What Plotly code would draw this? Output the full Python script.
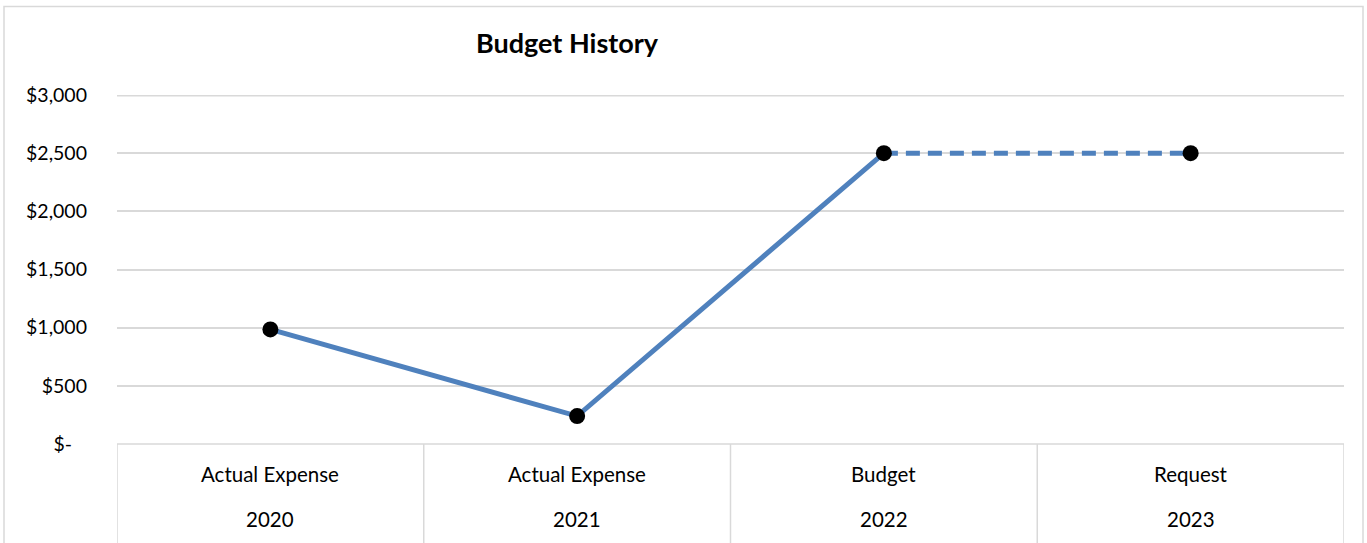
import plotly.graph_objects as go

# Budget history data
years = ["2020", "2021", "2022", "2023"]
kinds = ["Actual Expense", "Actual Expense", "Budget", "Request"]
amounts = [985, 240, 2500, 2500]

y_ticks = [0, 500, 1000, 1500, 2000, 2500, 3000]
y_tick_text = ["$-\u00a0\u00a0\u00a0", "$500", "$1,000", "$1,500", "$2,000", "$2,500", "$3,000"]

LINE_COLOR = "#4F81BD"
GRID = "#D9D9D9"
FONT = "Lato"

W, H = 1367, 543
L, R, T, B = 117, 23, 95, 99
plot_h = H - T - B


def py(pix):
    """Convert a pixel row to paper y."""
    return (H - B - pix) / plot_h


def px(pix):
    """Convert a pixel column to paper x."""
    return (pix - L) / (W - L - R)


idx = list(range(len(years)))

fig = go.Figure()

# Solid segment through actuals and budget
fig.add_trace(go.Scatter(
    x=idx[:3], y=amounts[:3], mode="lines",
    line=dict(color=LINE_COLOR, width=5),
    hoverinfo="skip", showlegend=False,
))
# Dashed segment from budget to request
fig.add_trace(go.Scatter(
    x=idx[2:], y=amounts[2:], mode="lines",
    line=dict(color=LINE_COLOR, width=5, dash="14px,8px"),
    hoverinfo="skip", showlegend=False,
))
# Point markers
fig.add_trace(go.Scatter(
    x=idx, y=amounts, mode="markers",
    marker=dict(color="black", size=16),
    showlegend=False,
))

shapes = []
# Outer chart frame
shapes.append(dict(type="rect", xref="paper", yref="paper",
                   x0=px(4), x1=px(1363), y0=py(560), y1=py(6.5),
                   line=dict(color=GRID, width=1.5), layer="below"))
# Top gridline at the axis maximum (half of it is clipped by the plot area)
shapes.append(dict(type="line", xref="paper", yref="y",
                   x0=0, x1=1, y0=y_ticks[-1], y1=y_ticks[-1],
                   line=dict(color=GRID, width=3), layer="below"))
# Category table: top line and dividers
shapes.append(dict(type="line", xref="x", yref="paper",
                   x0=-0.5, x1=len(years) - 0.5, y0=0, y1=0,
                   line=dict(color=GRID, width=1.5), layer="below"))
for i in range(len(years) + 1):
    shapes.append(dict(type="line", xref="x", yref="paper",
                       x0=i - 0.5, x1=i - 0.5, y0=0, y1=py(560),
                       line=dict(color=GRID, width=1.5), layer="below"))

annotations = []
for i, (k, yr) in enumerate(zip(kinds, years)):
    annotations.append(dict(x=i, y=py(474), xref="x", yref="paper",
                            text=k, showarrow=False, yanchor="middle",
                            font=dict(family=FONT, size=20.5, color="#000000")))
    annotations.append(dict(x=i, y=py(519), xref="x", yref="paper",
                            text=yr, showarrow=False, yanchor="middle",
                            font=dict(family=FONT, size=20.5, color="#000000")))

fig.update_layout(
    width=W, height=H,
    margin=dict(l=L, r=R, t=T, b=B),
    paper_bgcolor="white", plot_bgcolor="white",
    title=dict(text="<b>Budget History</b>", x=px(567), xref="paper",
               xanchor="center", y=1 - 44 / H, yanchor="middle",
               font=dict(family=FONT, size=27, color="#000000")),
    xaxis=dict(range=[-0.5, len(years) - 0.5], showgrid=False, zeroline=False,
               showticklabels=False, showline=False, fixedrange=True),
    yaxis=dict(range=[0, 3000], tickvals=y_ticks, ticktext=y_tick_text,
               showgrid=True, gridcolor=GRID, gridwidth=1.5, zeroline=False,
               showline=False, ticks="", ticklabelstandoff=29,
               tickfont=dict(family=FONT, size=19.5, color="#000000"),
               fixedrange=True),
    shapes=shapes,
    annotations=annotations,
)

fig.write_html("out.html")
